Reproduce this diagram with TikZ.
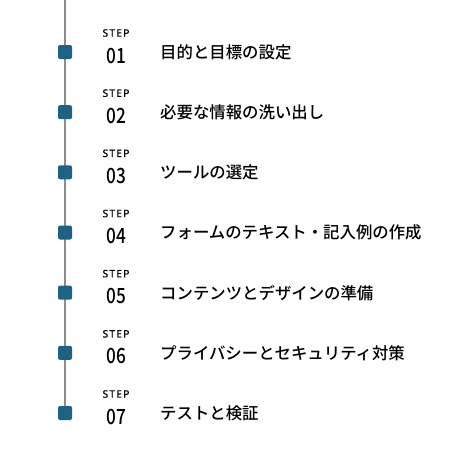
\documentclass[tikz,border=0pt]{standalone}
\usepackage{fontspec}
\setmainfont{Noto Sans CJK JP}[UprightFont=* Medium]
\newfontfamily\numfont{Noto Sans CJK JP}[UprightFont=* Medium,FakeStretch=0.82]
\newfontfamily\lblfont{Noto Sans}[FakeBold=0.8,LetterSpace=12]
\usetikzlibrary{positioning}
\definecolor{stepblue}{HTML}{1D6282}
\definecolor{linegray}{HTML}{8C8C8C}
\tikzset{
  stepsq/.style={fill=stepblue,rounded corners=2pt,minimum size=14pt,inner sep=0pt},
  steplbl/.style={font=\lblfont\fontsize{10.2}{10.2}\selectfont,inner sep=0pt},
  stepnum/.style={font=\numfont\fontsize{21}{21}\selectfont,inner sep=0pt},
  steptxt/.style={font=\fontsize{16.4}{17}\selectfont,anchor=west,inner sep=0pt}
}
\begin{document}
\begin{tikzpicture}[x=1pt,y=-1pt]
  \useasboundingbox (0,0) rectangle (472,466);
  \coordinate (top) at (65,0);
  \draw[linegray,line width=2pt] (top)--(65,413);
  \foreach \n/\txt [count=\i from 0] in {01/目的と目標の設定,02/必要な情報の洗い出し,03/ツールの選定,04/フォームのテキスト・記入例の作成,05/コンテンツとデザインの準備,06/プライバシーとセキュリティ対策,07/テストと検証}{
    \pgfmathsetmacro{\yy}{52+60.17*\i}
    \node[stepsq] (sq\n) at (65,\yy) {};
    \node[steplbl] (lbl\n) at (116,\yy-19) {STEP};
    \node[stepnum] (num\n) at (116,\yy+3.5) {\n};
    \node[steptxt] (txt\n) at (160,\yy) {\txt};
  }
\end{tikzpicture}
\end{document}
